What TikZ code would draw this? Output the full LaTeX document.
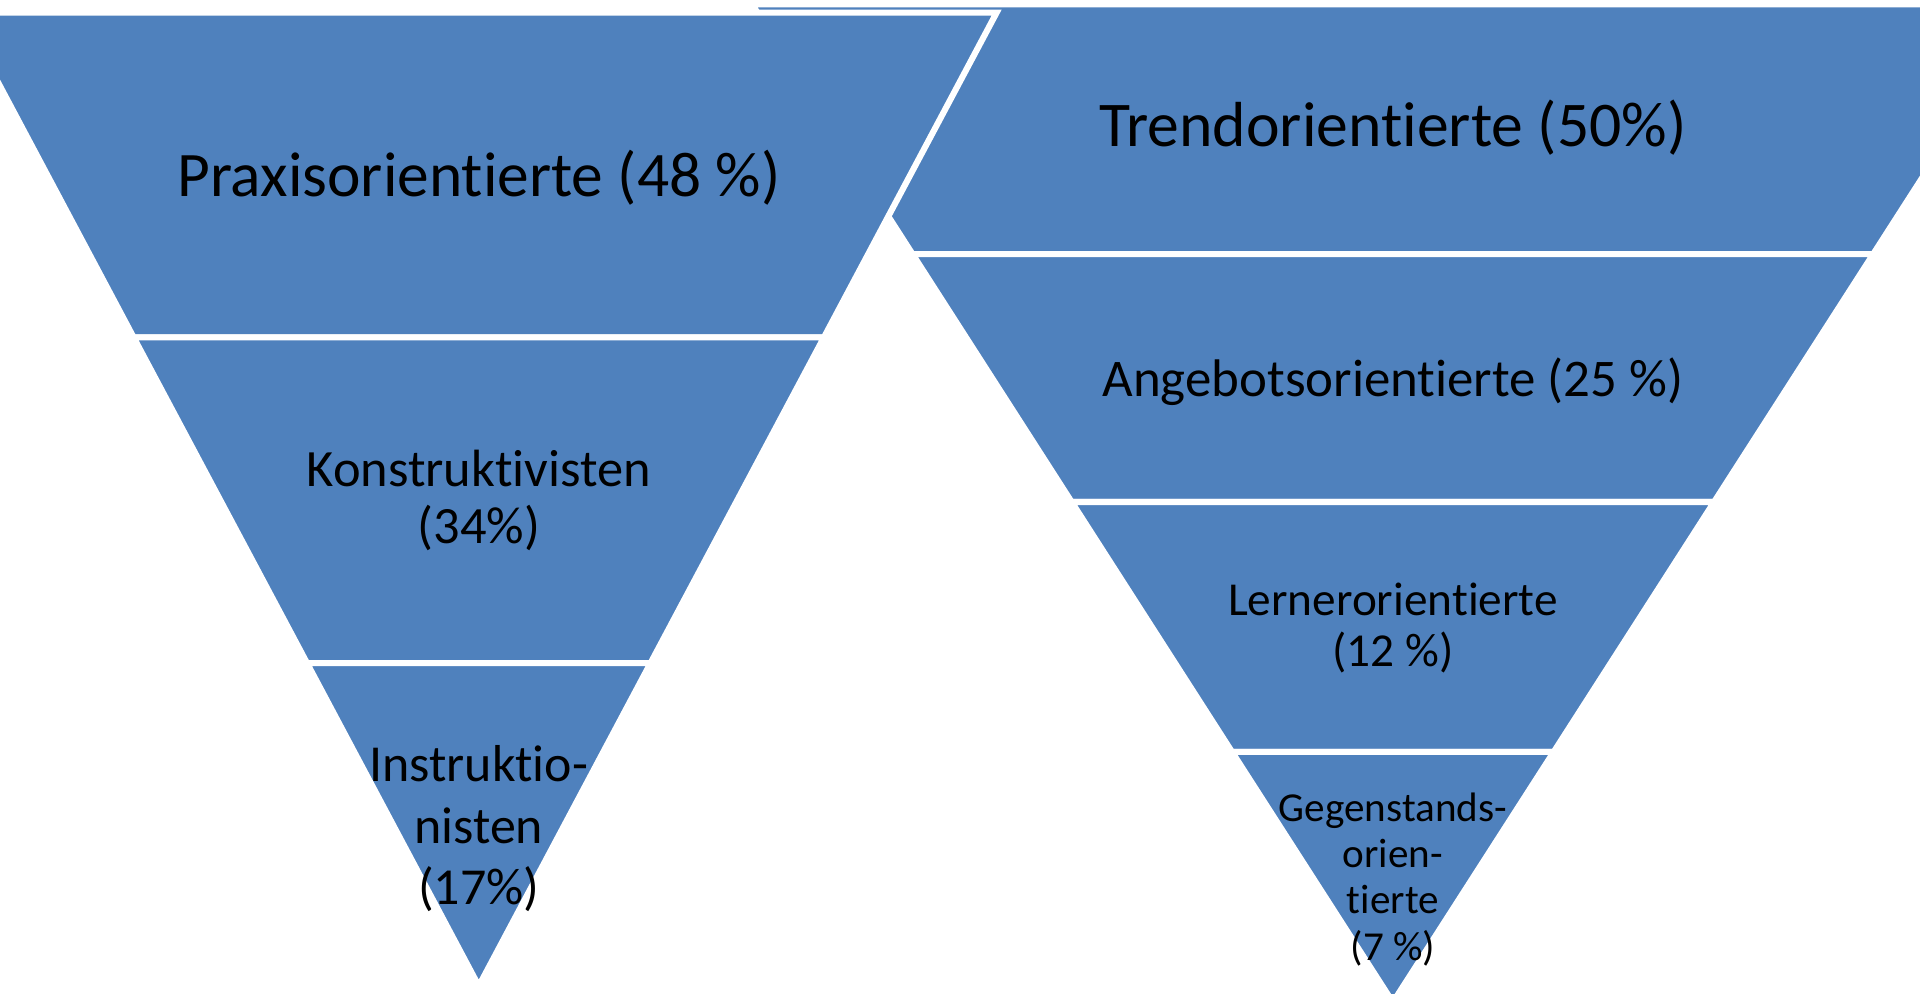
\documentclass[tikz,border=0pt]{standalone}
\usepackage{fontspec}
\setmainfont{Carlito}[Ligatures=NoCommon]
\usepackage{tikz}

\definecolor{bandblue}{HTML}{4F81BD}

\tikzset{
  band/.style={fill=bandblue, draw=white, line width=2.5pt, line join=miter},
  lbl/.style={align=center, anchor=base, inner sep=0pt, text=black}
}

\begin{document}
\begin{tikzpicture}[x=0.5pt, y=-0.5pt]

\useasboundingbox (0,0) rectangle (1568,811);
\clip (0,0) rectangle (1568,811);

% right pyramid (behind)
\fill[white] (0,0) rectangle (1568,811);
\draw[band] (614.2,3.5) -- (1660.8,3.5) -- (1529.8,207.5) -- (745.2,207.5) -- cycle;
\draw[band] (745.2,207.5) -- (1529.8,207.5) -- (1399.8,410) -- (875.2,410) -- cycle;
\draw[band] (875.2,410) -- (1399.8,410) -- (1268.9,614) -- (1006.1,614) -- cycle;
\draw[band] (1006.1,614) -- (1268.9,614) -- (1137.5,818.6) -- cycle;

% left pyramid (in front)
\draw[band] (-31.9,10.3) -- (813.9,10.3) -- (672.9,275.5) -- (109.1,275.5) -- cycle;
\draw[band] (109.1,275.5) -- (672.9,275.5) -- (531.3,541.5) -- (250.7,541.5) -- cycle;
\draw[band] (250.7,541.5) -- (531.3,541.5) -- (391,805.3) -- cycle;

% labels (base = last line)
\node[lbl, font=\fontsize{25.9}{31}\selectfont] (praxis) at (391,160.6) {Praxisorientierte (48 \%)};
\node[lbl, font=\fontsize{21.4}{23.2}\selectfont] (konstr) at (391,443.7) {Konstruktivisten\\(34\%)};
\node[lbl, font=\fontsize{21.2}{25.2}\selectfont] (instr) at (391,739) {Instruktio-\\nisten\\(17\%)};

\node[lbl, font=\fontsize{26}{31}\selectfont] (trend) at (1137.5,119.8) {Trendorientierte (50\%)};
\node[lbl, font=\fontsize{21.6}{25}\selectfont] (angebot) at (1137.5,324) {Angebotsorientierte (25 \%)};
\node[lbl, font=\fontsize{19.3}{21}\selectfont] (lerner) at (1137.5,544.4) {Lernerorientierte\\(12 \%)};
\node[lbl, font=\fontsize{16.8}{18.8}\selectfont] (gegen) at (1137.5,784) {Gegenstands-\\orien-\\tierte\\(7 \%)};

\end{tikzpicture}
\end{document}
